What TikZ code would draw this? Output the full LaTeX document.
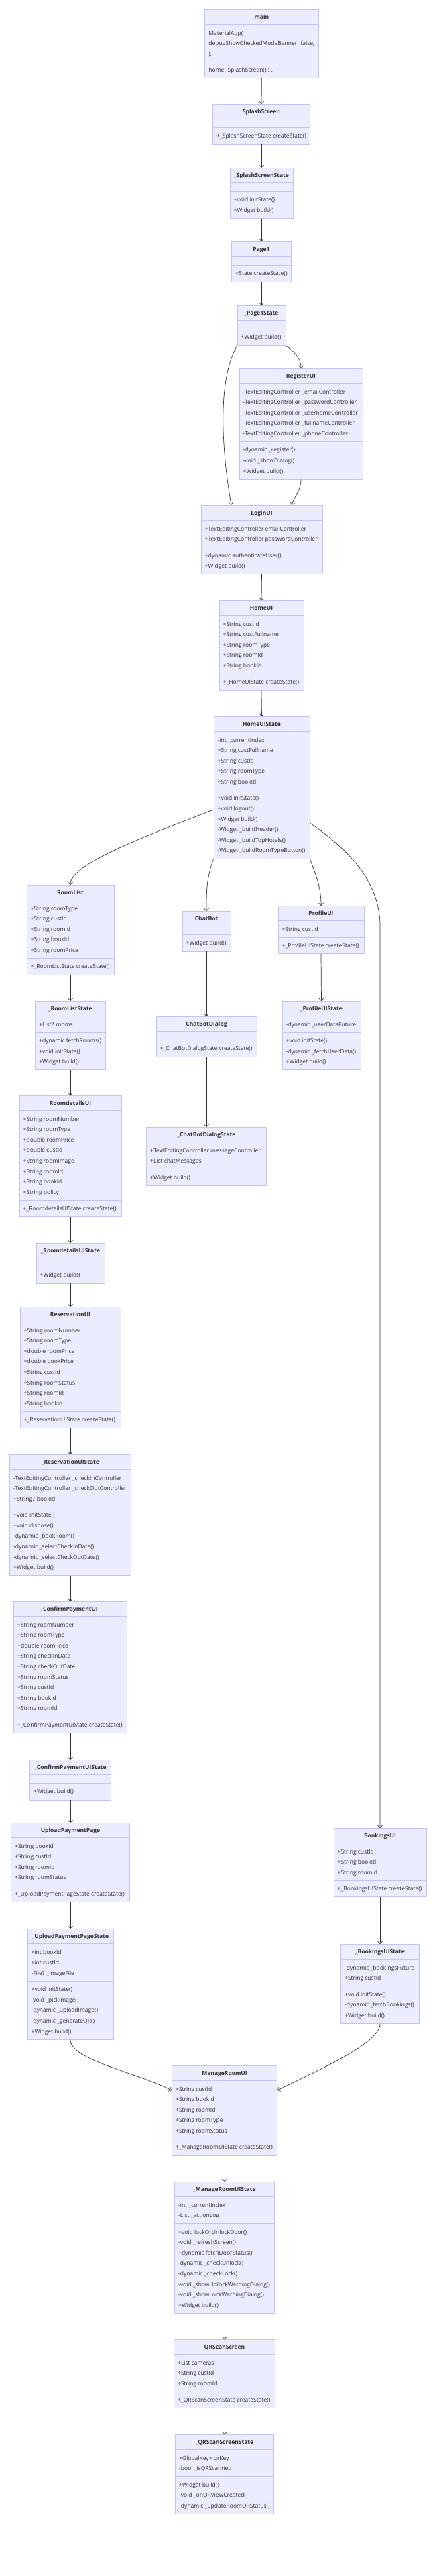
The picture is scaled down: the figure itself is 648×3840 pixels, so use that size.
\documentclass[tikz,border=0pt]{standalone}
\usepackage{fontspec}
\newfontfamily\umlfont{Open Sans}
\usetikzlibrary{shapes.multipart,arrows.meta}
\definecolor{umlfill}{HTML}{ECECFF}
\definecolor{umlborder}{HTML}{C4C4F4}
\definecolor{umltext}{HTML}{333333}
\newcommand{\titlestrut}{\rule[-3.6pt]{0pt}{13.6pt}}
\newcommand{\umltitle}[2]{\makebox[#1pt][c]{\titlestrut\bfseries #2}}
\newcommand{\umlrows}[1]{\begin{tabular}{@{}l@{}}#1\end{tabular}}
\newcommand{\umlempty}{\rule{0pt}{4pt}}
\tikzset{
  classbox/.style={rectangle split, rectangle split parts=3,
    rectangle split part align={center,left,left},
    draw=umlborder, fill=umlfill, text=umltext, line width=0.8pt,
    inner xsep=5.7pt, inner ysep=4pt, anchor=north,
    font=\umlfont\fontsize{8.5}{15.6}\selectfont},
  assoc/.style={draw=umltext, line width=0.7pt, -{Straight Barb[length=3.5pt,width=7pt]}}
}
\begin{document}
\begin{tikzpicture}[x=1pt,y=1pt]
\useasboundingbox (0,0) rectangle (648,-3840);
% start and login
\node[classbox](main) at (390.4,-14) {\umltitle{157.9}{main}
  \nodepart{two}\umlrows{MaterialApp(\\debugShowCheckedModeBanner: false,\\),}
  \nodepart{three}\umlrows{home: SplashScreen() : ,}};
\node[classbox](splash) at (390,-155) {\umltitle{133.6}{SplashScreen}
  \nodepart{two}\umlempty
  \nodepart{three}\umlrows{+\_SplashScreenState createState()}};
\node[classbox](splashst) at (390,-250) {\umltitle{82.6}{\_SplashScreenState}
  \nodepart{two}\umlempty
  \nodepart{three}\umlrows{+void initState()\\+Widget build()}};
\node[classbox](page1) at (390,-360) {\umltitle{76.6}{Page1}
  \nodepart{two}\umlempty
  \nodepart{three}\umlrows{+State createState()}};
\node[classbox](page1st) at (390,-455) {\umltitle{60.6}{\_Page1State}
  \nodepart{two}\umlempty
  \nodepart{three}\umlrows{+Widget build()}};
\node[classbox](register) at (449,-549) {\umltitle{172.6}{RegisterUI}
  \nodepart{two}\umlrows{-TextEditingController \_emailController\\-TextEditingController \_passwordController\\-TextEditingController \_usernameController\\-TextEditingController \_fullnameController\\-TextEditingController \_phoneController}
  \nodepart{three}\umlrows{-dynamic \_register()\\-void \_showDialog()\\+Widget build()}};
\node[classbox](login) at (390.5,-753) {\umltitle{169.6}{LoginUI}
  \nodepart{two}\umlrows{+TextEditingController emailController\\+TextEditingController passwordController}
  \nodepart{three}\umlrows{+dynamic authenticateUser()\\+Widget build()}};
\node[classbox](home) at (390,-895) {\umltitle{114.6}{HomeUI}
  \nodepart{two}\umlrows{+String custId\\+String custFullname\\+String roomType\\+String roomId\\+String bookId}
  \nodepart{three}\umlrows{+\_HomeUIState createState()}};
\node[classbox](homest) at (390.5,-1068) {\umltitle{131.6}{HomeUIState}
  \nodepart{two}\umlrows{-int \_currentIndex\\+String custFullname\\+String custId\\+String roomType\\+String bookId}
  \nodepart{three}\umlrows{+void initState()\\+void logout()\\+Widget build()\\-Widget \_buildHeader()\\-Widget \_buildTopHotels()\\-Widget \_buildRoomTypeButton()}};
% booking branch
\node[classbox](roomlist) at (105,-1319) {\umltitle{118.6}{RoomList}
  \nodepart{two}\umlrows{+String roomType\\+String custId\\+String roomId\\+String bookId\\+String roomPrice}
  \nodepart{three}\umlrows{+\_RoomListState createState()}};
\node[classbox](roomlistst) at (105,-1492) {\umltitle{93.6}{\_RoomListState}
  \nodepart{two}\umlrows{+List? rooms}
  \nodepart{three}\umlrows{+dynamic fetchRooms()\\+void initState()\\+Widget build()}};
\node[classbox](roomdet) at (105,-1633) {\umltitle{140.6}{RoomdetailsUI}
  \nodepart{two}\umlrows{+String roomNumber\\+String roomType\\+double roomPrice\\+double custId\\+String roomImage\\+String roomId\\+String bookId\\+String policy}
  \nodepart{three}\umlrows{+\_RoomdetailsUIState createState()}};
\node[classbox](roomdetst) at (105,-1853) {\umltitle{90.6}{\_RoomdetailsUIState}
  \nodepart{two}\umlempty
  \nodepart{three}\umlrows{+Widget build()}};
\node[classbox](resv) at (105,-1948) {\umltitle{138.6}{ReservationUI}
  \nodepart{two}\umlrows{+String roomNumber\\+String roomType\\+double roomPrice\\+double bookPrice\\+String custId\\+String roomStatus\\+String roomId\\+String bookId}
  \nodepart{three}\umlrows{+\_ReservationUIState createState()}};
\node[classbox](resvst) at (105,-2168) {\umltitle{169.6}{\_ReservationUIState}
  \nodepart{two}\umlrows{-TextEditingController \_checkInController\\-TextEditingController \_checkOutController\\+String? bookId}
  \nodepart{three}\umlrows{+void initState()\\+void dispose()\\-dynamic \_bookRoom()\\-dynamic \_selectCheckInDate()\\-dynamic \_selectCheckOutDate()\\+Widget build()}};
\node[classbox](confirm) at (105,-2387) {\umltitle{157.6}{ConfirmPaymentUI}
  \nodepart{two}\umlrows{+String roomNumber\\+String roomType\\+double roomPrice\\+String checkInDate\\+String checkOutDate\\+String roomStatus\\+String custId\\+String bookId\\+String roomId}
  \nodepart{three}\umlrows{+\_ConfirmPaymentUIState createState()}};
\node[classbox](confirmst) at (105,-2623) {\umltitle{109.6}{\_ConfirmPaymentUIState}
  \nodepart{two}\umlempty
  \nodepart{three}\umlrows{+Widget build()}};
\node[classbox](upload) at (105,-2717) {\umltitle{165.6}{UploadPaymentPage}
  \nodepart{two}\umlrows{+String bookId\\+String custId\\+String roomId\\+String roomStatus}
  \nodepart{three}\umlrows{+\_UploadPaymentPageState createState()}};
\node[classbox](uploadst) at (105,-2875) {\umltitle{116.6}{\_UploadPaymentPageState}
  \nodepart{two}\umlrows{+int bookId\\+int custId\\-File? \_imageFile}
  \nodepart{three}\umlrows{+void initState()\\-void \_pickImage()\\-dynamic \_uploadImage()\\-dynamic \_generateQR()\\+Widget build()}};
% chat and profile
\node[classbox](chatbot) at (308,-1358) {\umltitle{60.6}{ChatBot}
  \nodepart{two}\umlempty
  \nodepart{three}\umlrows{+Widget build()}};
\node[classbox](chatdlg) at (308,-1515) {\umltitle{138.6}{ChatBotDialog}
  \nodepart{two}\umlempty
  \nodepart{three}\umlrows{+\_ChatBotDialogState createState()}};
\node[classbox](chatdlgst) at (308,-1680) {\umltitle{167.6}{\_ChatBotDialogState}
  \nodepart{two}\umlrows{+TextEditingController messageController\\+List chatMessages}
  \nodepart{three}\umlrows{+Widget build()}};
\node[classbox](profile) at (479,-1350) {\umltitle{116.6}{ProfileUI}
  \nodepart{two}\umlrows{+String custId}
  \nodepart{three}\umlrows{+\_ProfileUIState createState()}};
\node[classbox](profilest) at (479.5,-1492) {\umltitle{105.6}{\_ProfileUIState}
  \nodepart{two}\umlrows{-dynamic \_userDataFuture}
  \nodepart{three}\umlrows{+void initState()\\-dynamic \_fetchUserData()\\+Widget build()}};
\node[classbox](bookings) at (567,-2725) {\umltitle{126.6}{BookingsUI}
  \nodepart{two}\umlrows{+String custId\\+String bookId\\+String roomId}
  \nodepart{three}\umlrows{+\_BookingsUIState createState()}};
\node[classbox](bookingsst) at (567,-2898) {\umltitle{105.6}{\_BookingsUIState}
  \nodepart{two}\umlrows{-dynamic \_bookingsFuture\\+String custId}
  \nodepart{three}\umlrows{+void initState()\\-dynamic \_fetchBookings()\\+Widget build()}};
% room management
\node[classbox](manage) at (335,-3079) {\umltitle{145.6}{ManageRoomUI}
  \nodepart{two}\umlrows{+String custId\\+String bookId\\+String roomId\\+String roomType\\+String roomStatus}
  \nodepart{three}\umlrows{+\_ManageRoomUIState createState()}};
\node[classbox](managest) at (335,-3252) {\umltitle{137.6}{\_ManageRoomUIState}
  \nodepart{two}\umlrows{-int \_currentIndex\\-List \_actionLog}
  \nodepart{three}\umlrows{+void lockOrUnlockDoor()\\-void \_refreshScreen()\\+dynamic fetchDoorStatus()\\-dynamic \_checkUnlock()\\-dynamic \_checkLock()\\-void \_showUnlockWarningDialog()\\-void \_showLockWarningDialog()\\+Widget build()}};
\node[classbox](qrscan) at (335,-3487) {\umltitle{139.6}{QRScanScreen}
  \nodepart{two}\umlrows{+List cameras\\+String custId\\+String roomId}
  \nodepart{three}\umlrows{+\_QRScanScreenState createState()}};
\node[classbox](qrscanst) at (335,-3629) {\umltitle{135.6}{\_QRScanScreenState}
  \nodepart{two}\umlrows{+GlobalKey> qrKey\\-bool \_isQRScanned}
  \nodepart{three}\umlrows{+Widget build()\\-void \_onQRViewCreated()\\-dynamic \_updateRoomQRStatus()}};
\coordinate (bkturn) at (567,-1380);
% connectors
\draw[assoc](main.south)--(splash.north);
\draw[assoc](splash.south)--(splashst.north);
\draw[assoc](splashst.south)--(page1.north);
\draw[assoc](page1.south)--(page1st.north);
\draw[assoc](page1st.south east) to[out=-35,in=90] (register.north);
\draw[assoc](page1st.south west) to[out=-120,in=100,looseness=0.7] ([xshift=-45.5pt]login.north);
\draw[assoc](register.south) to[out=-90,in=70] ([xshift=44.5pt]login.north);
\draw[assoc](login.south)--(home.north);
\draw[assoc](home.south)--(homest.north);
\draw[assoc]([yshift=-139pt]homest.north west) .. controls +(201:120) and +(90:30) .. (roomlist.north);
\draw[assoc](homest.south west) to[out=-110,in=90] (chatbot.north);
\draw[assoc](homest.south east) to[out=-70,in=90] (profile.north);
\draw[assoc]([yshift=-159pt]homest.north east) .. controls +(-34:60) and +(90:70) .. (bkturn) -- (bookings.north);
\draw[assoc](roomlist.south)--(roomlistst.north);
\draw[assoc](roomlistst.south)--(roomdet.north);
\draw[assoc](roomdet.south)--(roomdetst.north);
\draw[assoc](roomdetst.south)--(resv.north);
\draw[assoc](resv.south)--(resvst.north);
\draw[assoc](resvst.south)--(confirm.north);
\draw[assoc](confirm.south)--(confirmst.north);
\draw[assoc](confirmst.south)--(upload.north);
\draw[assoc](upload.south)--(uploadst.north);
\draw[assoc](chatbot.south)--(chatdlg.north);
\draw[assoc](chatdlg.south)--(chatdlgst.north);
\draw[assoc](profile.south)--(profilest.north);
\draw[assoc](bookings.south)--(bookingsst.north);
\draw[assoc](uploadst.south) .. controls +(-90:30) and +(153:60) .. ([yshift=-37pt]manage.north west);
\draw[assoc](bookingsst.south) .. controls +(-90:30) and +(27:60) .. ([yshift=-37pt]manage.north east);
\draw[assoc](manage.south)--(managest.north);
\draw[assoc](managest.south)--(qrscan.north);
\draw[assoc](qrscan.south)--(qrscanst.north);
\end{tikzpicture}
\end{document}
